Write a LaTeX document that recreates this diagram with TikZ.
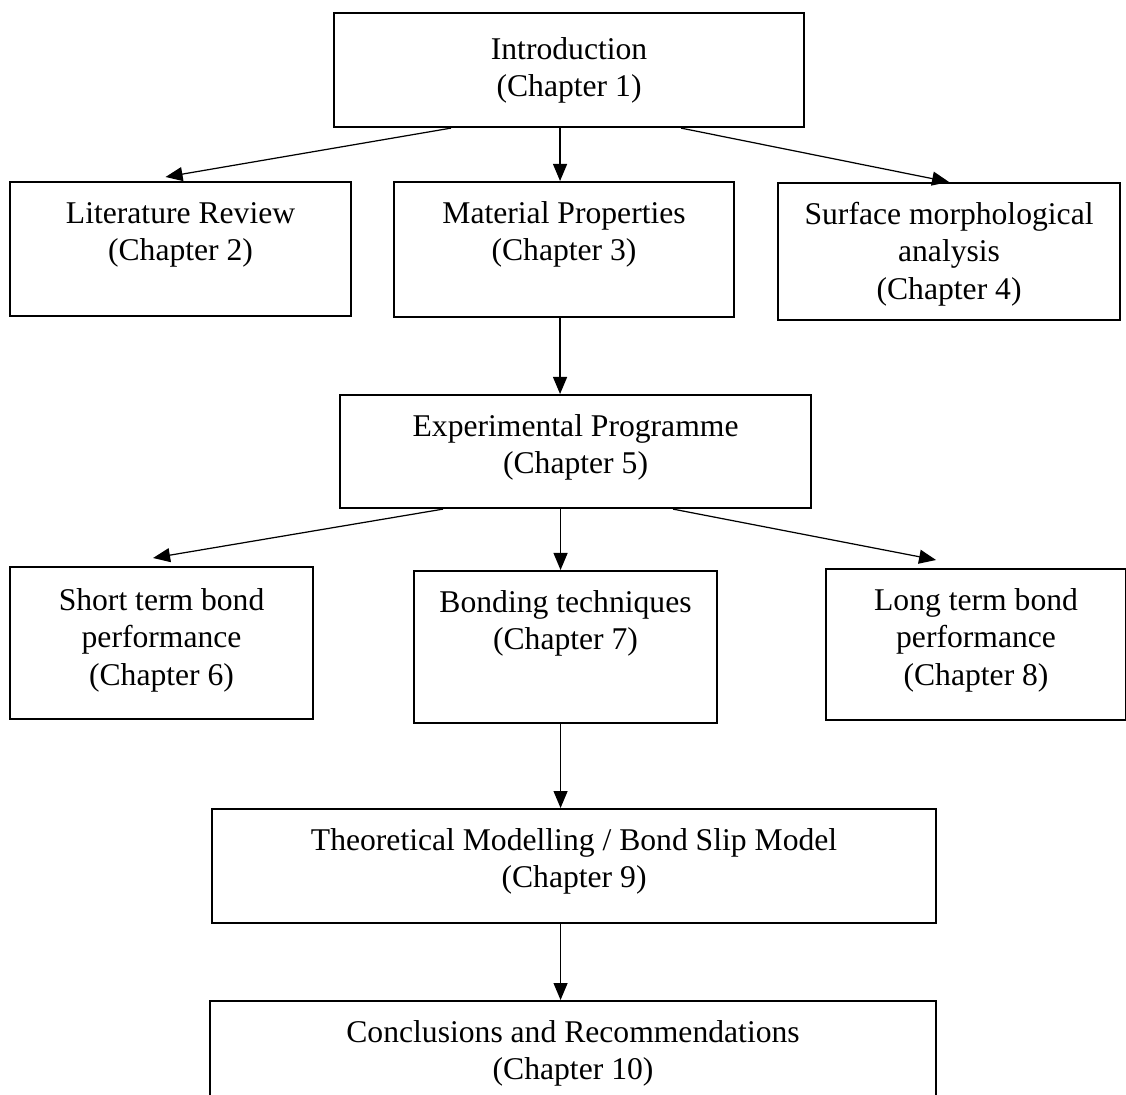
\documentclass[tikz,border=0pt]{standalone}
\usepackage{fontspec}
\setmainfont{Liberation Serif}
\usepackage{tikz}
\usetikzlibrary{arrows.meta,calc}

\newcommand{\chapbox}[4][0.41cm]{\parbox[t][#3][t]{#2}{\centering\rule{0pt}{#1}#4}}

\begin{document}
\begin{tikzpicture}[chap/.style={draw,line width=0.6pt,inner sep=0pt,anchor=north west,font=\fontsize{9}{10.7}\selectfont},
  link/.style={-{Triangle[length=0.17cm,width=0.14cm]},line width=0.35pt}]

\useasboundingbox (0,0) rectangle (11.26,-10.95);
\clip (0,0) rectangle (11.26,-10.95);

\node[chap] (intro) at (3.33,-0.12) {\chapbox[0.46cm]{4.70cm}{1.14cm}{Introduction\\(Chapter 1)}};

\node[chap] (lit) at (0.09,-1.81) {\chapbox{3.41cm}{1.34cm}{Literature Review\\(Chapter 2)}};
\node[chap] (mat) at (3.93,-1.81) {\chapbox{3.40cm}{1.35cm}{Material Properties\\(Chapter 3)}};
\node[chap] (surf) at (7.77,-1.82) {\chapbox{3.42cm}{1.37cm}{Surface morphological\\analysis\\(Chapter 4)}};

\node[chap] (exp) at (3.39,-3.94) {\chapbox{4.71cm}{1.13cm}{Experimental Programme\\(Chapter 5)}};

\node[chap] (short) at (0.09,-5.66) {\chapbox[0.43cm]{3.03cm}{1.52cm}{Short term bond\\performance\\(Chapter 6)}};
\node[chap] (bond) at (4.13,-5.70) {\chapbox{3.03cm}{1.52cm}{Bonding techniques\\(Chapter 7)}};
\node[chap] (long) at (8.25,-5.68) {\chapbox{3.00cm}{1.51cm}{Long term bond\\performance\\(Chapter 8)}};

\node[chap] (theo) at (2.11,-8.08) {\chapbox{7.24cm}{1.14cm}{Theoretical Modelling / Bond Slip Model\\(Chapter 9)}};
\node[chap] (concl) at (2.09,-10.00) {\chapbox{7.26cm}{1.14cm}{Conclusions and Recommendations\\(Chapter 10)}};

%arrows
\draw[link] ([xshift=-1.18cm]intro.south) -- ([xshift=-0.15cm,yshift=0.04cm]lit.north);
\draw[link] ([xshift=-0.04cm]mat.north |- intro.south) -- ([xshift=-0.04cm]mat.north);
\draw[link] ([xshift=1.12cm]intro.south) -- (surf.north);

\draw[link] ([xshift=-0.04cm]mat.south) -- ([xshift=-0.04cm]mat.south |- exp.north);

\draw[link] ([xshift=-1.325cm]exp.south) -- ([xshift=-0.085cm,yshift=0.08cm]short.north);
\draw[link] ([xshift=-0.05cm]bond.north |- exp.south) -- ([xshift=-0.05cm]bond.north);
\draw[link] ([xshift=0.975cm]exp.south) -- ([xshift=-0.40cm,yshift=0.08cm]long.north);

\draw[link] ([xshift=-0.05cm]bond.south) -- ([xshift=-0.05cm]bond.south |- theo.north);
\draw[link] ([xshift=-0.05cm]bond.south |- theo.south) -- ([xshift=-0.05cm]bond.south |- concl.north);

\end{tikzpicture}
\end{document}
